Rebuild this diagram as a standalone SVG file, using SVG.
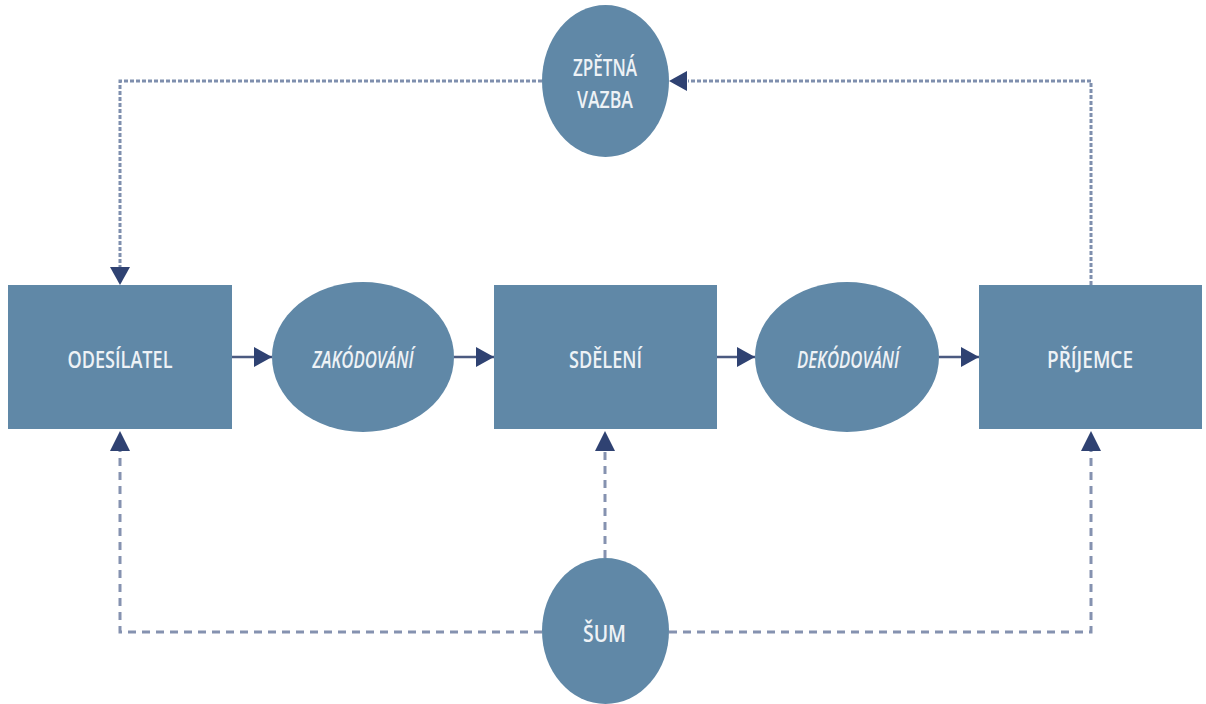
<svg xmlns="http://www.w3.org/2000/svg" width="1206" height="704" viewBox="0 0 1206 704">
<defs>
<marker id="ah" viewBox="0 0 18 20" refX="18" refY="10" markerWidth="18" markerHeight="20" markerUnits="userSpaceOnUse" orient="auto">
<path d="M0,0 L18,10 L0,20 Z" fill="#2f4272"/>
</marker>
<style>
.node{fill:#6088a7}
.lbl{font-family:"Open Sans","Liberation Sans",sans-serif;font-size:23px;font-weight:600;fill:#eef2f6;text-anchor:middle}
.it{font-style:italic}
.solid{stroke:#4b5a80;stroke-width:2.5;fill:none}
.dot{stroke:#7f8fae;stroke-width:3;fill:none;stroke-dasharray:4 2}
.dash{stroke:#8592b0;stroke-width:3;fill:none;stroke-dasharray:8 6}
</style>
</defs>
<rect width="1206" height="704" fill="#ffffff"/>
<g id="connectors">
<path class="solid" d="M232,357 L272,357" marker-end="url(#ah)"/>
<path class="solid" d="M454,357 L494,357" marker-end="url(#ah)"/>
<path class="solid" d="M717,357 L755,357" marker-end="url(#ah)"/>
<path class="solid" d="M939,357 L979,357" marker-end="url(#ah)"/>
<path class="dot" d="M1091,285 L1091,81 L688,81"/>
<path d="M669,81 L687,71 L687,91 Z" fill="#2f4272"/>
<path class="dot" d="M542,81 L120,81 L120,267"/>
<path d="M120,285 L110,267 L130,267 Z" fill="#2f4272"/>
<path class="dash" d="M542,632 L120,632 L120,449"/>
<path d="M120,431 L110,451 L130,451 Z" fill="#2f4272"/>
<path class="dash" d="M669,632 L1091,632 L1091,449"/>
<path d="M1091,431 L1081,451 L1101,451 Z" fill="#2f4272"/>
<path class="dash" d="M605,558 L605,449"/>
<path d="M605,431 L595,451 L615,451 Z" fill="#2f4272"/>
</g>
<g id="odesilatel">
<rect class="node" x="8" y="285" width="224" height="144"/>
<text class="lbl" x="120" y="368" textLength="105" lengthAdjust="spacingAndGlyphs">ODESÍLATEL</text>
</g>
<g id="zakodovani">
<ellipse class="node" cx="363" cy="357" rx="91" ry="75"/>
<text class="lbl it" x="363" y="368" textLength="101" lengthAdjust="spacingAndGlyphs">ZAKÓDOVÁNÍ</text>
</g>
<g id="sdeleni">
<rect class="node" x="494" y="285" width="223" height="144"/>
<text class="lbl" x="605.5" y="368" textLength="73" lengthAdjust="spacingAndGlyphs">SDĚLENÍ</text>
</g>
<g id="dekodovani">
<ellipse class="node" cx="847" cy="357" rx="92" ry="75"/>
<text class="lbl it" x="848" y="368" textLength="102" lengthAdjust="spacingAndGlyphs">DEKÓDOVÁNÍ</text>
</g>
<g id="prijemce">
<rect class="node" x="979" y="285" width="223" height="144"/>
<text class="lbl" x="1090" y="368" textLength="86" lengthAdjust="spacingAndGlyphs">PŘÍJEMCE</text>
</g>
<g id="zpetna-vazba">
<ellipse class="node" cx="605.5" cy="81" rx="63.5" ry="76"/>
<text class="lbl" x="605" y="76" textLength="64" lengthAdjust="spacingAndGlyphs">ZPĚTNÁ</text>
<text class="lbl" x="605" y="108" textLength="56" lengthAdjust="spacingAndGlyphs">VAZBA</text>
</g>
<g id="sum">
<ellipse class="node" cx="605.5" cy="631" rx="63.5" ry="73"/>
<text class="lbl" x="604.5" y="642" textLength="43" lengthAdjust="spacingAndGlyphs">ŠUM</text>
</g>
</svg>
